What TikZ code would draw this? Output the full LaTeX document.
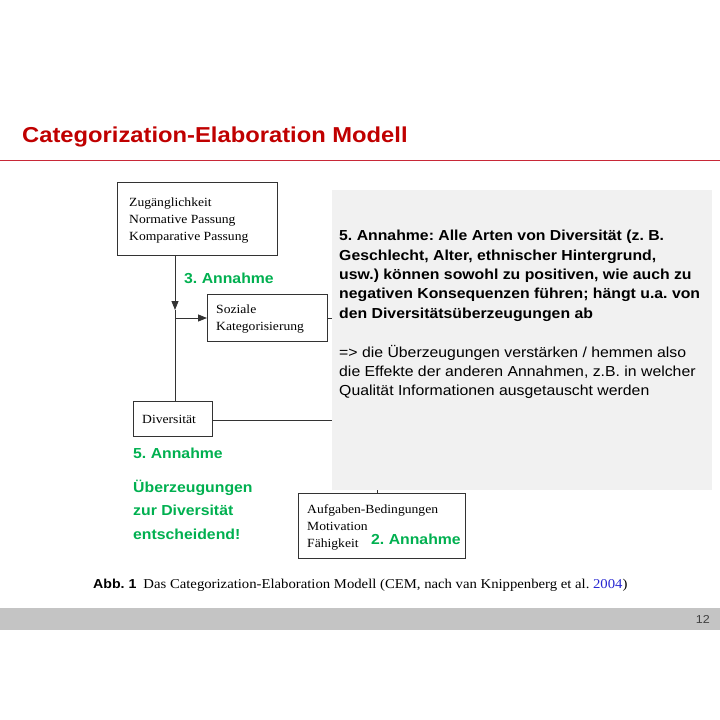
\documentclass[tikz,border=0pt]{standalone}
\usepackage{fontspec}
\setmainfont{Liberation Serif}[FakeStretch=1.09]
\newfontfamily\arial{Liberation Sans}[FakeStretch=1.09]
\newfontfamily\arialtitle{Liberation Sans}[FakeStretch=1.10]
\usetikzlibrary{arrows.meta,calc}
\definecolor{titlered}{RGB}{192,0,0}
\definecolor{linered}{RGB}{200,40,55}
\definecolor{agreen}{RGB}{0,176,80}
\definecolor{boxgray}{RGB}{241,241,241}
\definecolor{bargray}{RGB}{196,196,196}
\definecolor{citeblue}{RGB}{40,40,210}
\tikzset{
  figbox/.style={draw=black!80, line width=0.9pt, fill=white},
  figtext/.style={anchor=west, inner sep=0pt, align=left, font=\fontsize{12.5}{17.2}\selectfont},
  conn/.style={draw=black!80, line width=0.9pt},
  tip/.style={-{Triangle[length=9pt,width=7pt]}},
  greentext/.style={text=agreen, font=\arial\bfseries\fontsize{14.5}{23.2}\selectfont, anchor=base west, inner sep=0pt, align=left},
}
\begin{document}
\frenchspacing
\begin{tikzpicture}[x=1pt,y=-1pt]
\useasboundingbox (0,0) rectangle (720,720);
\fill[white] (0,0) rectangle (720,720);
% title
\node[anchor=base west, inner sep=0pt, text=titlered, font=\arialtitle\bfseries\fontsize{21.6}{25}\selectfont] (title) at (22,142) {Categorization-Elaboration Modell};
\draw[linered, line width=1.6pt] (0,160.5) -- (720,160.5);
% boxes
\draw[figbox] (117,182) rectangle (277,255);
\node[figtext] (top) at (129,220.5) {Zugänglichkeit\\Normative Passung\\Komparative Passung};
\coordinate (topS) at (175,255);
\draw[figbox] (207,294) rectangle (327,341);
\node[figtext] (soz) at (216,319) {Soziale\\Kategorisierung};
\coordinate (sozW) at (207,318);
\coordinate (sozE) at (327,318);
\draw[figbox] (133,401) rectangle (212,436);
\node[figtext] (div) at (142,419) {Diversität};
\coordinate (divN) at (175,401);
\coordinate (divE) at (212,420);
\draw[figbox] (298,493) rectangle (465,558);
\node[figtext] (auf) at (307,527.5) {Aufgaben-Bedingungen\\Motivation\\Fähigkeit};
\coordinate (aufN) at (377,493);
% connectors
\coordinate (mid) at (175,310);
\coordinate (branch) at (175,318);
\draw[conn, tip] (topS) -- (mid);
\draw[conn] (mid) -- (divN);
\draw[conn, tip] (branch) -- (sozW);
\coordinate (g1) at (332,318);
\coordinate (g2) at (332,420);
\coordinate (g3) at (377,490);
\draw[conn] (sozE) -- (g1);
\draw[conn] (divE) -- (g2);
\draw[conn] (aufN) -- (g3);
% gray overlay box
\fill[boxgray] (332,190) rectangle (712,490);
\node[anchor=north west, inner sep=0pt, align=left, font=\arial\fontsize{14.5}{19.4}\selectfont] (note) at (339,230) {\bfseries 5. Annahme: Alle Arten von Diversität (z. B.\\\bfseries Geschlecht, Alter, ethnischer Hintergrund,\\\bfseries usw.) können sowohl zu positiven, wie auch zu\\\bfseries negativen Konsequenzen führen; hängt u.a. von\\\bfseries den Diversitätsüberzeugungen ab\\[19.4pt]=> die Überzeugungen verstärken / hemmen also\\die Effekte der anderen Annahmen, z.B. in welcher\\Qualität Informationen ausgetauscht werden};
% green labels
\node[greentext] (a3) at (184,283) {3. Annahme};
\node[greentext] (a5) at (133,458) {5. Annahme};
\node[greentext] (ueb) at (133,539) {Überzeugungen\\zur Diversität\\entscheidend!};
\node[greentext] (a2) at (371,544) {2. Annahme};
% caption
\node[anchor=base west, inner sep=0pt] (cap) at (93,588) {{\arial\bfseries\fontsize{13}{15}\selectfont Abb. 1}\hspace{7pt}{\fontsize{13.5}{15}\selectfont Das Categorization-Elaboration Modell (CEM, nach van Knippenberg et al. \textcolor{citeblue}{2004})}};
% bottom bar
\fill[bargray] (0,608) rectangle (720,630);
\node[anchor=base east, inner sep=0pt, text=black!75, font=\arial\fontsize{11.5}{13}\selectfont] (pg) at (710,623) {12};
\end{tikzpicture}
\end{document}
